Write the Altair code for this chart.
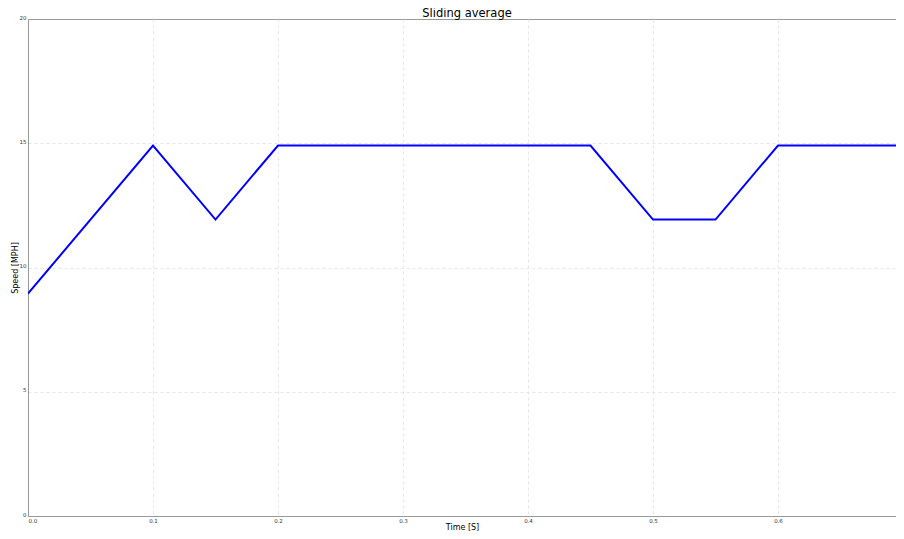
import altair as alt
import pandas as pd

title_text = ["Sliding average"]
times = [0.0, 0.1, 0.15, 0.2, 0.45, 0.5, 0.55, 0.6, 0.7]
speeds = [8.95, 14.91, 11.93, 14.91, 14.91, 11.93, 11.93, 14.91, 14.91]
x_ticks = [0.0, 0.1, 0.2, 0.3, 0.4, 0.5, 0.6]
y_ticks = [0, 5, 10, 15, 20]

df = pd.DataFrame({"t": times, "v": speeds})
tdf = pd.DataFrame({"title": title_text})

common = dict(labelFontSize=5.5, labelColor="#333", titleFontSize=8, titleFontWeight="normal",
              titleColor="#000", tickSize=0, gridDash=[3, 3],
              gridColor="#e6e6e6", domainColor="#999", labelFont="DejaVu Sans",
              titleFont="DejaVu Sans")

line = alt.Chart(df).mark_line(color="#0000ff", strokeWidth=2, clip=True).encode(
    x=alt.X("t:Q", title="Time [S]", scale=alt.Scale(domain=[0, 0.6944], nice=False),
            axis=alt.Axis(values=x_ticks, format=".1f", titlePadding=0, labelPadding=2,
                          gridOpacity={"condition": {"test": "datum.value == 0", "value": 0}, "value": 1},
                          **common)),
    y=alt.Y("v:Q", title="Speed [MPH]", scale=alt.Scale(domain=[0, 20], nice=False),
            axis=alt.Axis(values=y_ticks, titlePadding=0, labelPadding=2, labelBaseline="alphabetic",
                          gridOpacity={"condition": {"test": "datum.value == 20 || datum.value == 0", "value": 0}, "value": 1},
                          **common)),
)

title = alt.Chart(tdf).mark_text(baseline="alphabetic", align="center", fontSize=11.5,
                                 font="DejaVu Sans", color="#000").encode(
    text="title:N", x=alt.value(439), y=alt.value(-2)
)

chart = alt.layer(line, title).properties(
    width=868,
    height=497,
    autosize=alt.AutoSizeParams(type="none"),
    padding={"left": 20, "top": 11, "right": 0, "bottom": 15},
).configure_view(stroke="#999", strokeWidth=1)

chart.save("out.html", embed_options={"renderer": "svg", "actions": False})
